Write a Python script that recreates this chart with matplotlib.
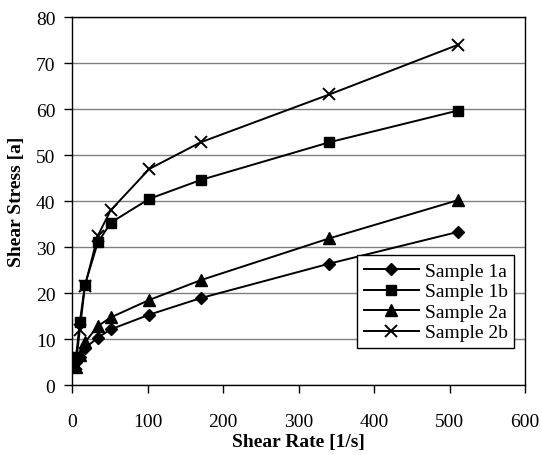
import matplotlib
matplotlib.use("Agg")
import matplotlib.pyplot as plt

shear_rate = [5.1, 10.2, 17.0, 34.1, 51.1, 102.2, 170.3, 340.6, 510.9]
sample_1a = [5.0, 6.0, 8.0, 10.3, 12.1, 15.3, 18.9, 26.4, 33.3]
sample_1b = [6.0, 13.6, 21.8, 31.0, 35.3, 40.5, 44.6, 52.8, 59.7]
sample_2a = [4.0, 6.5, 9.3, 12.8, 14.7, 18.5, 22.8, 31.9, 40.2]
sample_2b = [4.5, 12.0, 21.5, 32.5, 38.0, 47.0, 52.8, 63.2, 74.0]
labels = ["Sample 1a", "Sample 1b", "Sample 2a", "Sample 2b"]

plt.rcParams['font.family'] = ['Liberation Serif', 'DejaVu Serif']

fig = plt.figure(figsize=(5.42, 4.56), dpi=100)
ax = fig.add_axes([0.133, 0.1535, 0.836, 0.8065])

ax.plot(shear_rate, sample_1a, color='black', lw=1.4, marker='D', ms=6.5, label=labels[0])
ax.plot(shear_rate, sample_1b, color='black', lw=1.4, marker='s', ms=7, label=labels[1])
ax.plot(shear_rate, sample_2a, color='black', lw=1.4, marker='^', ms=8.5, label=labels[2])
ax.plot(shear_rate, sample_2b, color='black', lw=1.4, marker='x', ms=9, mew=1.4, label=labels[3])

ax.set_xlim(0, 600)
ax.set_ylim(0, 80)
ax.set_xticks(range(0, 601, 100))
ax.set_yticks(range(0, 81, 10))
ax.yaxis.grid(True, color='#808080', lw=1)
ax.set_axisbelow(True)
for s in ['top', 'right', 'left', 'bottom']:
    ax.spines[s].set_linewidth(1.0)
ax.tick_params(axis='both', direction='out', length=6, labelsize=14, width=1)
ax.tick_params(axis='x', pad=14)
ax.tick_params(axis='y', pad=6)
ax.set_xlabel('Shear Rate [1/s]', fontsize=14, fontweight='bold', labelpad=2)
ax.set_ylabel('Shear Stress [a]', fontsize=14, fontweight='bold', labelpad=8)

leg = ax.legend(loc='lower right', bbox_to_anchor=(0.976, 0.10), fontsize=14,
                frameon=True, fancybox=False, edgecolor='black', framealpha=1,
                handlelength=2.8, borderpad=0.35, labelspacing=0.15, handletextpad=0.3,
                borderaxespad=0)
leg.get_frame().set_linewidth(1.0)

fig.savefig('out.png', dpi=100)
